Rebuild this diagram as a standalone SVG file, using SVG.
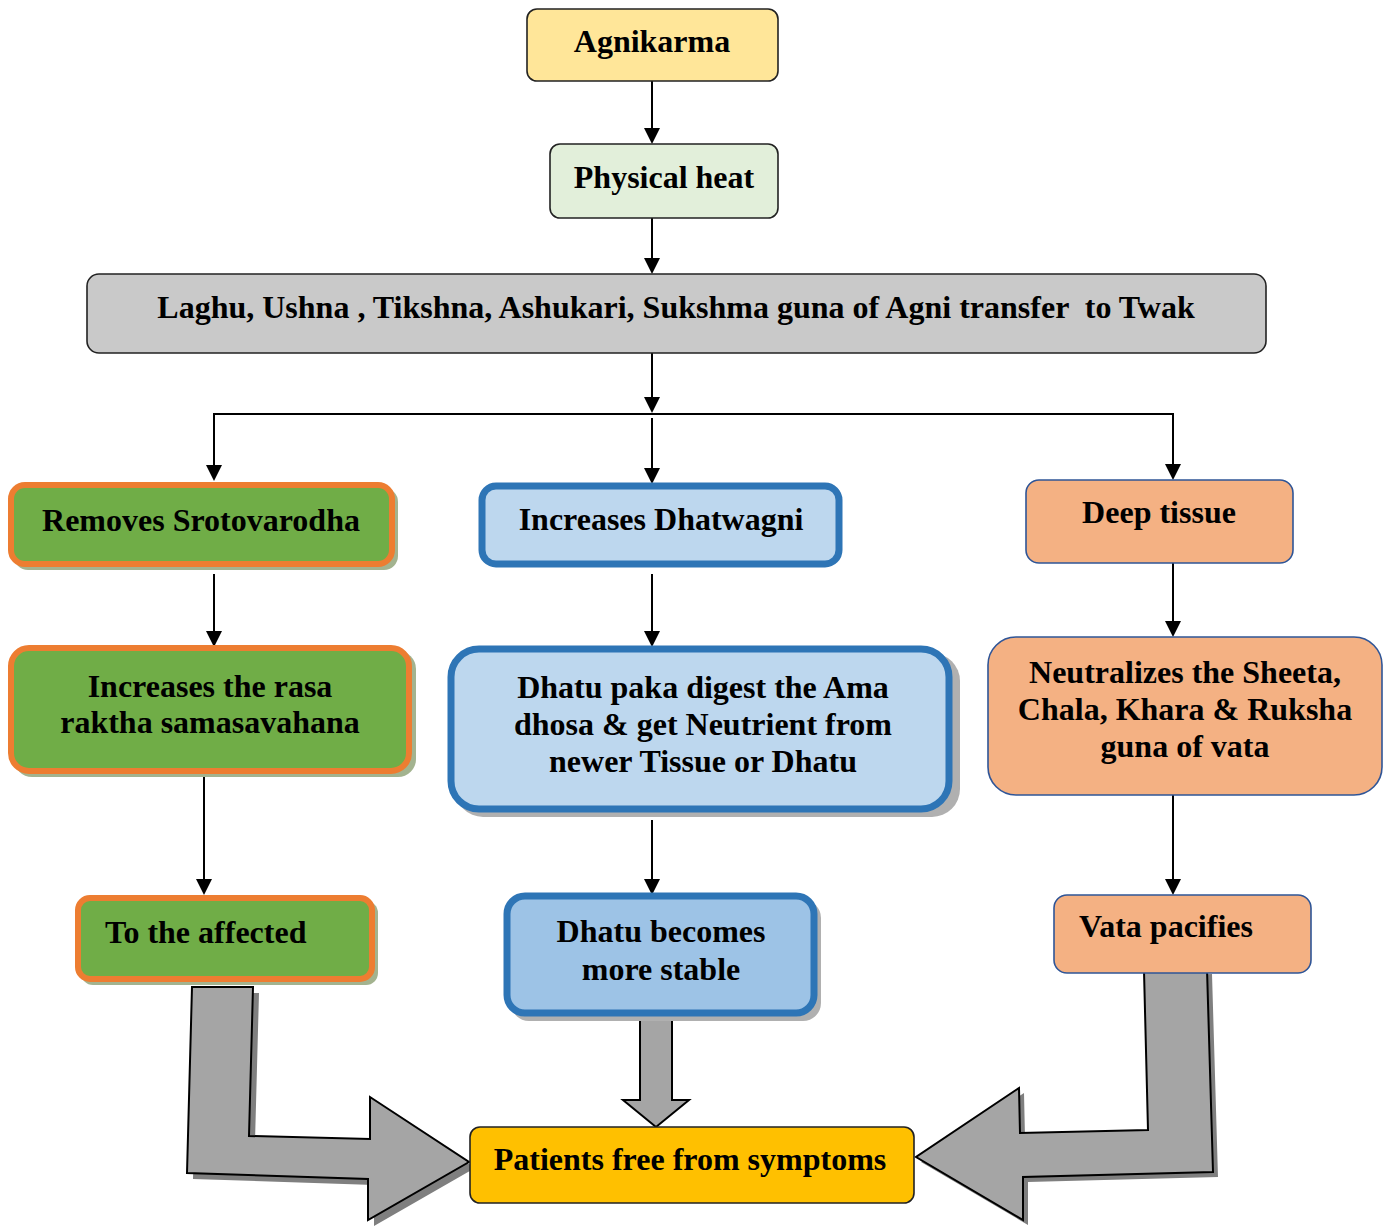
<svg xmlns="http://www.w3.org/2000/svg" width="1390" height="1228" viewBox="0 0 1390 1228">
<style>
text{font-family:"Liberation Serif","Times New Roman",serif;font-weight:bold;font-size:32px;fill:#000}
.c{text-anchor:middle}
.thin{stroke:#222;stroke-width:1.6}
.green{fill:#70AD47;stroke:#ED7D31;stroke-width:6}
.gshadow{fill:#A3B38F}
.blue{stroke:#2E75B6;stroke-width:7}
.bshadow{fill:#B0B0B0}
.peach{fill:#F4B183;stroke:#2F5597;stroke-width:1.6}
.conn{stroke:#000;stroke-width:2;fill:none}
.block{fill:#A5A5A5;stroke:#000;stroke-width:2;stroke-linejoin:miter}
.bsh{fill:#7F7F7F}
</style>
<rect width="1390" height="1228" fill="#fff"/>

<g id="connectors">
<line class="conn" x1="652" y1="81" x2="652" y2="130"/>
<line class="conn" x1="652" y1="218" x2="652" y2="260"/>
<line class="conn" x1="652" y1="353" x2="652" y2="400"/>
<polyline class="conn" points="214,467 214,414 1173,414 1173,466"/>
<line class="conn" x1="652" y1="418" x2="652" y2="470"/>
<line class="conn" x1="214" y1="574" x2="214" y2="633"/>
<line class="conn" x1="652" y1="574" x2="652" y2="633"/>
<line class="conn" x1="1173" y1="563" x2="1173" y2="623"/>
<line class="conn" x1="204" y1="770" x2="204" y2="881"/>
<line class="conn" x1="652" y1="820" x2="652" y2="881"/>
<line class="conn" x1="1173" y1="795" x2="1173" y2="881"/>
<g fill="#000">
<path d="M644,128 L660,128 L652,144 Z"/>
<path d="M644,258 L660,258 L652,274 Z"/>
<path d="M644,397 L660,397 L652,413 Z"/>
<path d="M206,465 L222,465 L214,481 Z"/>
<path d="M644,468 L660,468 L652,484 Z"/>
<path d="M1165,464 L1181,464 L1173,480 Z"/>
<path d="M206,631 L222,631 L214,647 Z"/>
<path d="M644,631 L660,631 L652,647 Z"/>
<path d="M1165,621 L1181,621 L1173,637 Z"/>
<path d="M196,879 L212,879 L204,895 Z"/>
<path d="M644,879 L660,879 L652,895 Z"/>
<path d="M1165,879 L1181,879 L1173,895 Z"/>
</g>
<g id="block-left">
<polygon class="bsh" transform="translate(6,6)" points="192,987 253,987 249,1136 370,1139 370,1097 469,1162 368,1220 368,1179 187,1173"/>
<polygon class="block" points="192,987 253,987 249,1136 370,1139 370,1097 469,1162 368,1220 368,1179 187,1173"/>
</g>
<g id="block-mid">
<polygon class="block" points="640,1017 672,1017 672,1100 689,1100 656,1127 623,1100 640,1100"/>
</g>
<g id="block-right">
<polygon class="bsh" transform="translate(5,5)" points="1144,971 1207,969 1213,1172 1023,1177 1023,1220 916,1157 1019,1088 1020,1133 1148,1130"/>
<polygon class="block" points="1144,971 1207,969 1213,1172 1023,1177 1023,1220 916,1157 1019,1088 1020,1133 1148,1130"/>
</g>
</g>

<g id="n-agnikarma">
<rect class="thin" x="527" y="9" width="251" height="72" rx="10" fill="#FFE699"/>
<text class="c" x="652" y="52">Agnikarma</text>
</g>
<g id="n-physical">
<rect class="thin" x="550" y="144" width="228" height="74" rx="10" fill="#E2EFDA"/>
<text class="c" x="664" y="188">Physical heat</text>
</g>
<g id="n-guna">
<rect class="thin" x="87" y="274" width="1179" height="79" rx="12" fill="#C9C9C9"/>
<text class="c" x="676" y="318" xml:space="preserve">Laghu, Ushna , Tikshna, Ashukari, Sukshma guna of Agni transfer  to Twak</text>
</g>

<g id="n-removes">
<rect class="gshadow" x="14" y="488" width="384" height="82" rx="14"/>
<rect class="green" x="11" y="485" width="381" height="79" rx="14"/>
<text class="c" x="201" y="531">Removes Srotovarodha</text>
</g>
<g id="n-rasa">
<rect class="gshadow" x="14" y="651" width="402" height="126" rx="18"/>
<rect class="green" x="11" y="648" width="398" height="123" rx="18"/>
<text class="c" x="210" y="697">Increases the rasa</text>
<text class="c" x="210" y="733">raktha samasavahana</text>
</g>
<g id="n-affected">
<rect class="gshadow" x="81" y="901" width="297" height="84" rx="12"/>
<rect class="green" x="78" y="898" width="294" height="81" rx="12"/>
<text x="105" y="943">To the affected</text>
</g>

<g id="n-dhatwagni">
<rect class="blue" x="482" y="486" width="357" height="78" rx="14" fill="#BDD7EE"/>
<text class="c" x="661" y="530">Increases Dhatwagni</text>
</g>
<g id="n-dhatupaka">
<rect class="bshadow" x="455" y="653" width="505" height="164" rx="28"/>
<rect class="blue" x="451" y="649" width="498" height="160" rx="28" fill="#BDD7EE"/>
<text class="c" x="703" y="698">Dhatu paka digest the Ama</text>
<text class="c" x="703" y="735">dhosa &amp; get Neutrient from</text>
<text class="c" x="703" y="772">newer Tissue or Dhatu</text>
</g>
<g id="n-stable">
<rect class="bshadow" x="511" y="900" width="310" height="121" rx="18"/>
<rect class="blue" x="507" y="896" width="307" height="117" rx="18" fill="#9DC3E6"/>
<text class="c" x="661" y="942">Dhatu becomes</text>
<text class="c" x="661" y="980">more stable</text>
</g>

<g id="n-deep">
<rect class="peach" x="1026" y="480" width="267" height="83" rx="13"/>
<text class="c" x="1159" y="523">Deep tissue</text>
</g>
<g id="n-neutralizes">
<rect class="peach" x="988" y="637" width="394" height="158" rx="28"/>
<text class="c" x="1185" y="683">Neutralizes the Sheeta,</text>
<text class="c" x="1185" y="720">Chala, Khara &amp; Ruksha</text>
<text class="c" x="1185" y="757">guna of vata</text>
</g>
<g id="n-vata">
<rect class="peach" x="1054" y="895" width="257" height="78" rx="13"/>
<text x="1079" y="937">Vata pacifies</text>
</g>

<g id="n-patients">
<rect class="thin" x="470" y="1127" width="444" height="76" rx="10" fill="#FFC000"/>
<text class="c" x="690" y="1170">Patients free from symptoms</text>
</g>
</svg>
